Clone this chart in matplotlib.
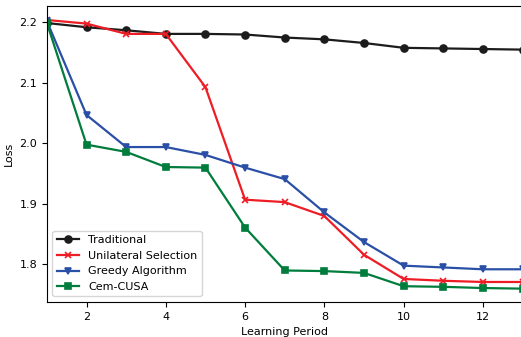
import matplotlib
matplotlib.use("Agg")
import matplotlib.pyplot as plt

periods = list(range(1, 14))
traditional = [2.199, 2.192, 2.187, 2.181, 2.181, 2.180, 2.175, 2.172, 2.166, 2.158, 2.157, 2.156, 2.155]
unilateral = [2.204, 2.198, 2.181, 2.181, 2.093, 1.907, 1.903, 1.880, 1.816, 1.776, 1.773, 1.771, 1.771]
greedy = [2.202, 2.047, 1.994, 1.994, 1.981, 1.960, 1.941, 1.886, 1.837, 1.798, 1.795, 1.792, 1.792]
cem_cusa = [2.199, 1.998, 1.986, 1.961, 1.960, 1.861, 1.790, 1.789, 1.786, 1.764, 1.763, 1.761, 1.760]

labels = ["Traditional", "Unilateral Selection", "Greedy Algorithm", "Cem-CUSA"]
colors = ["#1c1c1c", "#ee1d25", "#2a4fa6", "#007d3c"]
markers = ["o", "x", "v", "s"]

fig = plt.figure(figsize=(5.21, 3.37), dpi=100)
ax = fig.add_axes([0.090, 0.104, 0.913, 0.878])
for ys, lab, c, m in zip([traditional, unilateral, greedy, cem_cusa], labels, colors, markers):
    ax.plot(periods, ys, color=c, marker=m, lw=1.6, ms=5, mew=1.2, label=lab)

ax.set_xlim(1, 13)
ax.set_ylim(1.738, 2.227)
ax.set_xticks([2, 4, 6, 8, 10, 12])
ax.set_yticks([1.8, 1.9, 2.0, 2.1, 2.2])
ax.tick_params(labelsize=8)
ax.set_xlabel("Learning Period", fontsize=8)
ax.set_ylabel("Loss", fontsize=8)
ax.legend(loc="lower left", fontsize=8)
fig.savefig("out.png", dpi=100)
